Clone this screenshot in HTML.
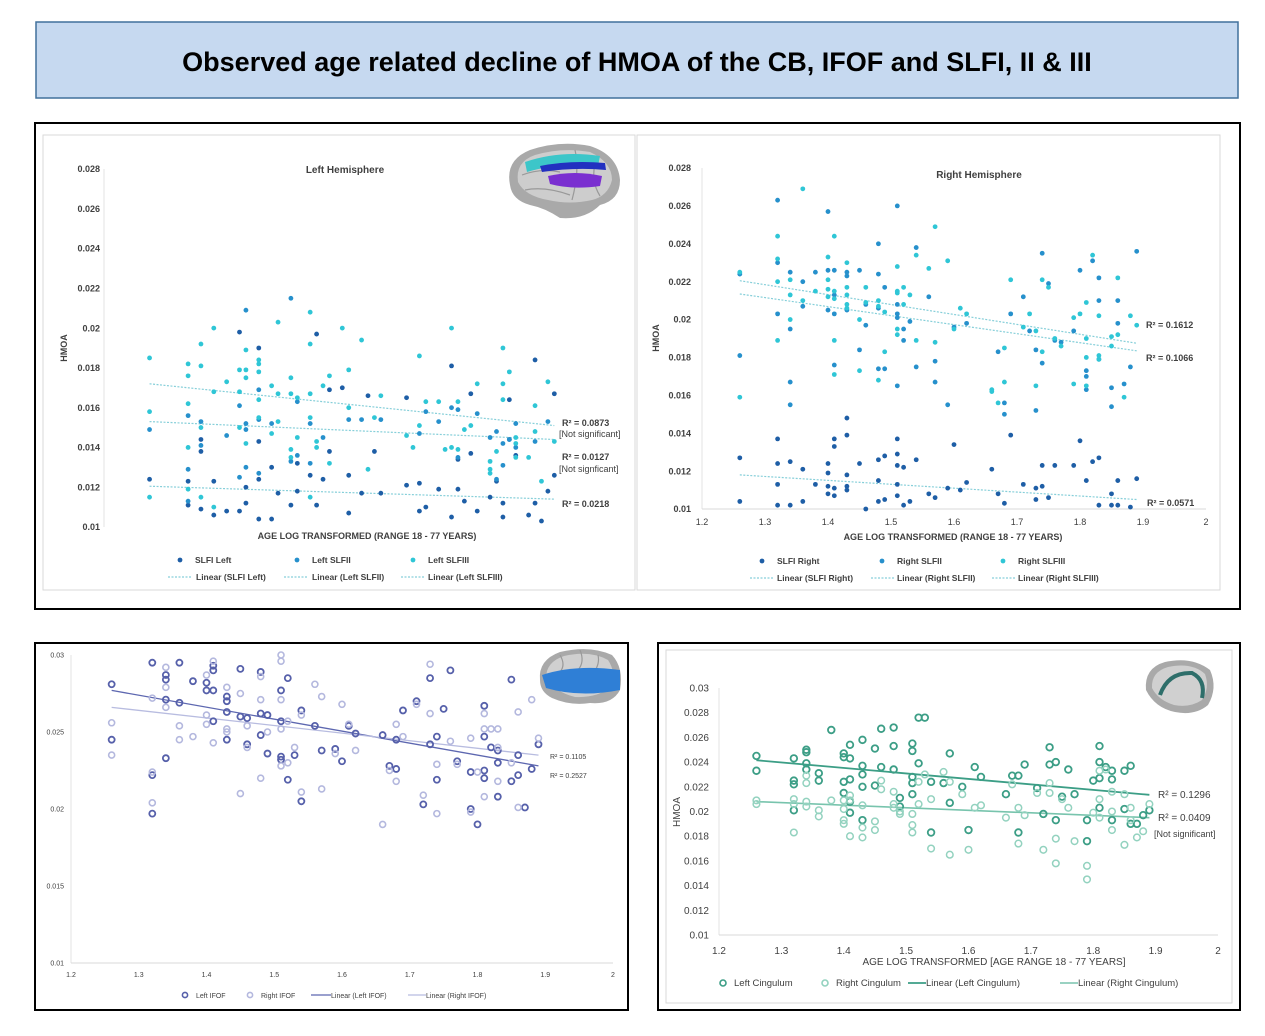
<!DOCTYPE html>
<html><head><meta charset="utf-8">
<style>
html,body{margin:0;padding:0;background:#fff;}
svg{display:block;font-family:"Liberation Sans",sans-serif;}
</style></head>
<body>
<svg id="fig" width="1265" height="1036" viewBox="0 0 1265 1036" xmlns="http://www.w3.org/2000/svg">
  <rect x="36" y="22" width="1202" height="76" fill="#c6d9f0" stroke="#41719c" stroke-width="1.5"/>
  <text x="637" y="71" text-anchor="middle" font-size="27" font-weight="bold" fill="#000">Observed age related decline of HMOA of the CB, IFOF and SLFI, II &amp; III</text>

  <rect x="35" y="123" width="1205" height="486" fill="#fff" stroke="#000" stroke-width="2"/>
  <rect x="43" y="135" width="592" height="455" fill="#fff" stroke="#d9d9d9"/>
  <rect x="637" y="135" width="583" height="455" fill="#fff" stroke="#d9d9d9"/>
  <rect x="35" y="643" width="593" height="367" fill="#fff" stroke="#000" stroke-width="2"/>
  <rect x="658" y="643" width="582" height="367" fill="#fff" stroke="#000" stroke-width="2"/>
  <rect x="666" y="650" width="566" height="353" fill="none" stroke="#d9d9d9"/>

  <!-- brains -->
  <g>
    <path d="M510 185 Q505 160 530 150 Q560 140 590 146 Q618 155 620 180 Q620 200 600 205 Q585 220 560 218 Q545 208 530 205 Q512 200 510 185 Z" fill="#a9a9a9"/>
    <path d="M518 182 Q515 162 535 155 Q562 147 590 152 Q612 162 612 180 Q608 196 592 200 Q570 205 548 200 Q525 196 518 182 Z" fill="#cdcdcd"/>
    <path d="M522 175 Q540 168 560 172 M525 190 Q545 186 570 195 M575 150 Q580 170 572 200 M596 160 Q590 180 600 196" fill="none" stroke="#999" stroke-width="1.2"/>
    <path d="M525 162 Q560 150 600 156 L598 166 Q560 162 527 172 Z" fill="#3cc6c9"/>
    <path d="M540 166 Q570 160 605 163 L606 170 Q575 167 542 172 Z" fill="#2230c0"/>
    <path d="M548 176 Q575 170 602 176 L600 186 Q572 190 550 184 Z" fill="#7a2fd0"/>
  </g>
  <g>
    <path d="M540 680 Q538 660 560 652 Q590 645 612 655 Q624 668 620 690 Q612 705 590 703 Q570 706 552 698 Q540 692 540 680 Z" fill="#a9a9a9"/>
    <path d="M546 678 Q546 662 564 656 Q590 650 608 660 Q616 672 612 686 Q598 698 575 697 Q555 692 546 678 Z" fill="#d0d0d0"/>
    <path d="M560 655 Q566 665 560 672 M580 650 Q585 662 578 670 M598 655 Q600 664 594 672" fill="none" stroke="#999" stroke-width="1.2"/>
    <path d="M542 675 Q575 664 620 670 L620 690 Q580 698 546 688 Z" fill="#2f7fd6"/>
  </g>
  <g>
    <path d="M1146 690 Q1144 668 1165 662 Q1192 656 1210 670 Q1218 688 1208 705 Q1195 716 1175 712 Q1155 708 1146 690 Z" fill="#a9a9a9"/>
    <path d="M1152 688 Q1151 672 1168 667 Q1192 662 1205 674 Q1210 688 1202 700 Q1190 708 1174 705 Q1158 700 1152 688 Z" fill="#d0d0d0"/>
    <path d="M1160 695 Q1168 672 1192 673 Q1206 680 1202 698" fill="none" stroke="#2e6e6a" stroke-width="4"/>
  </g>
  <g id="charts"></g>
</svg>
<script>
// ---------- DATA ----------
const leftSLFI = [[1.26,12.4],[1.32,12.3],[1.32,11.1],[1.34,10.9],[1.34,13.8],[1.34,14.4],[1.36,10.6],[1.36,12.3],[1.38,10.8],[1.40,10.8],[1.40,19.8],[1.41,12.0],[1.41,11.2],[1.43,12.4],[1.43,19.0],[1.43,10.4],[1.43,14.3],[1.45,10.4],[1.45,13.0],[1.46,11.7],[1.48,11.1],[1.49,11.8],[1.49,13.2],[1.51,12.6],[1.52,19.7],[1.52,11.1],[1.53,12.4],[1.54,13.8],[1.54,16.9],[1.56,17.0],[1.57,10.7],[1.57,12.6],[1.59,11.7],[1.60,16.6],[1.61,13.8],[1.62,11.7],[1.66,16.5],[1.66,12.1],[1.68,10.8],[1.68,12.2],[1.69,11.0],[1.71,11.9],[1.73,18.1],[1.73,10.5],[1.74,13.4],[1.74,11.9],[1.75,11.3],[1.76,16.7],[1.76,13.7],[1.77,10.8],[1.79,11.5],[1.80,12.3],[1.81,10.5],[1.81,11.2],[1.82,16.4],[1.82,14.4],[1.83,13.6],[1.85,10.6],[1.86,18.4],[1.86,11.2],[1.87,10.3],[1.88,11.8],[1.89,16.7],[1.89,12.6]];
const leftSLFII = [[1.26,14.9],[1.32,15.6],[1.32,12.9],[1.32,11.3],[1.34,15.3],[1.34,14.1],[1.38,14.6],[1.40,16.1],[1.40,12.5],[1.41,20.9],[1.41,15.2],[1.41,14.9],[1.41,13.0],[1.43,16.9],[1.43,15.4],[1.43,12.7],[1.45,15.2],[1.48,21.5],[1.48,13.3],[1.49,16.3],[1.49,13.6],[1.51,15.2],[1.51,13.2],[1.53,14.5],[1.57,15.4],[1.59,15.4],[1.62,15.4],[1.68,14.7],[1.69,15.8],[1.71,15.3],[1.73,16.0],[1.74,15.9],[1.74,13.5],[1.77,15.7],[1.79,14.5],[1.80,14.8],[1.80,12.4],[1.81,14.2],[1.81,13.1],[1.82,14.4],[1.83,15.2],[1.83,14.0],[1.86,14.3],[1.88,15.3]];
const leftSLFIII = [[1.26,18.5],[1.26,15.8],[1.26,11.5],[1.32,18.2],[1.32,17.6],[1.32,16.2],[1.32,14.0],[1.32,11.9],[1.34,19.2],[1.34,18.1],[1.34,15.0],[1.34,11.5],[1.36,20.0],[1.36,16.8],[1.36,11.0],[1.38,17.3],[1.40,17.9],[1.40,16.8],[1.40,15.0],[1.41,18.9],[1.41,17.9],[1.41,17.5],[1.41,14.2],[1.43,18.4],[1.43,18.2],[1.43,17.8],[1.43,16.4],[1.43,15.5],[1.45,17.1],[1.45,14.7],[1.46,20.3],[1.46,16.7],[1.46,15.3],[1.48,17.5],[1.48,16.7],[1.48,13.9],[1.48,13.5],[1.49,16.5],[1.49,14.5],[1.51,20.8],[1.51,19.2],[1.51,16.7],[1.51,15.5],[1.51,11.5],[1.52,14.3],[1.52,14.0],[1.53,17.1],[1.54,17.6],[1.54,13.2],[1.56,20.0],[1.57,17.9],[1.57,16.0],[1.59,19.4],[1.60,12.9],[1.61,15.5],[1.62,16.6],[1.66,14.6],[1.67,14.0],[1.68,18.6],[1.68,15.1],[1.69,16.3],[1.71,16.3],[1.72,13.9],[1.73,20.0],[1.73,14.0],[1.74,16.3],[1.74,13.9],[1.75,14.9],[1.76,15.1],[1.77,17.2],[1.79,13.3],[1.79,12.9],[1.79,12.7],[1.80,13.8],[1.81,19.0],[1.81,17.2],[1.81,16.4],[1.82,17.8],[1.83,14.5],[1.83,14.2],[1.83,13.5],[1.85,13.5],[1.86,16.1],[1.86,14.8],[1.87,12.3],[1.88,17.3],[1.89,14.3]];
const rightSLFI = [[1.26,12.7],[1.26,10.4],[1.32,13.7],[1.32,12.4],[1.32,11.3],[1.32,10.2],[1.34,12.5],[1.34,10.2],[1.36,12.1],[1.36,10.4],[1.38,11.3],[1.40,12.4],[1.40,11.9],[1.40,11.2],[1.40,10.8],[1.41,13.7],[1.41,13.3],[1.41,11.1],[1.41,10.7],[1.43,14.8],[1.43,13.9],[1.43,11.8],[1.43,11.2],[1.43,11.0],[1.45,12.4],[1.46,10.0],[1.48,12.6],[1.48,11.5],[1.48,10.4],[1.49,12.8],[1.49,10.5],[1.51,13.7],[1.51,12.9],[1.51,12.3],[1.51,11.3],[1.51,10.7],[1.52,12.2],[1.52,10.2],[1.53,10.4],[1.54,12.6],[1.56,10.8],[1.57,10.6],[1.59,11.1],[1.60,13.4],[1.61,11.0],[1.62,11.4],[1.66,12.1],[1.67,10.8],[1.68,10.3],[1.69,13.9],[1.71,11.3],[1.73,11.1],[1.73,10.5],[1.74,12.3],[1.74,11.2],[1.75,10.6],[1.76,12.3],[1.79,12.3],[1.80,13.6],[1.81,11.5],[1.82,12.5],[1.83,12.7],[1.83,10.2],[1.85,10.8],[1.85,10.2],[1.86,11.5],[1.86,10.2],[1.88,10.1],[1.89,11.6]];
const rightSLFII = [[1.26,22.4],[1.26,18.1],[1.32,26.3],[1.32,23.0],[1.32,20.3],[1.34,22.5],[1.34,19.5],[1.34,16.7],[1.34,15.5],[1.36,22.0],[1.36,20.7],[1.38,22.5],[1.40,25.7],[1.40,22.6],[1.40,20.5],[1.41,22.6],[1.41,21.3],[1.41,20.3],[1.41,17.6],[1.43,22.5],[1.43,22.3],[1.43,20.5],[1.45,22.6],[1.45,18.4],[1.46,20.8],[1.46,19.7],[1.48,24.0],[1.48,22.4],[1.48,20.6],[1.48,17.4],[1.49,21.7],[1.49,17.4],[1.51,26.0],[1.51,20.8],[1.51,20.3],[1.51,20.1],[1.51,16.5],[1.52,19.5],[1.52,18.9],[1.53,19.9],[1.54,23.8],[1.54,17.5],[1.56,21.2],[1.57,17.8],[1.57,16.7],[1.59,15.5],[1.60,19.6],[1.62,19.8],[1.67,18.3],[1.68,15.6],[1.68,15.0],[1.69,20.3],[1.71,21.2],[1.72,19.4],[1.73,18.4],[1.73,15.2],[1.74,23.5],[1.74,17.7],[1.75,21.9],[1.76,18.9],[1.77,18.8],[1.79,19.4],[1.80,22.6],[1.81,17.3],[1.81,17.0],[1.81,16.3],[1.82,23.1],[1.83,22.2],[1.83,21.0],[1.83,17.9],[1.85,16.4],[1.85,15.4],[1.86,21.0],[1.86,19.8],[1.87,16.6],[1.88,17.5],[1.89,23.6]];
const rightSLFIII = [[1.26,22.5],[1.26,15.9],[1.32,24.4],[1.32,23.2],[1.32,22.0],[1.32,18.9],[1.34,22.1],[1.34,21.3],[1.34,20.0],[1.36,26.9],[1.36,21.0],[1.38,21.5],[1.40,23.3],[1.40,22.1],[1.40,21.6],[1.40,21.2],[1.41,24.4],[1.41,21.5],[1.41,21.1],[1.41,18.9],[1.41,17.1],[1.43,23.0],[1.43,21.7],[1.43,21.3],[1.43,20.8],[1.43,20.6],[1.45,20.0],[1.45,17.3],[1.46,21.7],[1.46,20.9],[1.48,21.0],[1.48,20.7],[1.48,16.8],[1.49,20.4],[1.49,18.3],[1.51,22.8],[1.51,21.5],[1.51,21.4],[1.51,19.5],[1.51,19.2],[1.52,21.7],[1.52,20.8],[1.53,21.3],[1.54,23.4],[1.54,18.9],[1.56,22.7],[1.57,24.9],[1.57,18.8],[1.59,23.1],[1.60,19.5],[1.61,20.6],[1.62,20.3],[1.66,16.3],[1.66,16.2],[1.67,15.6],[1.68,18.5],[1.68,16.7],[1.69,22.1],[1.71,19.6],[1.72,20.3],[1.73,19.4],[1.73,16.5],[1.74,22.1],[1.74,18.3],[1.75,21.7],[1.76,19.0],[1.77,18.6],[1.79,20.1],[1.79,16.6],[1.80,20.3],[1.81,20.9],[1.81,19.0],[1.81,18.0],[1.81,16.5],[1.82,23.4],[1.83,20.2],[1.83,18.1],[1.83,17.9],[1.85,19.1],[1.85,18.6],[1.86,22.2],[1.86,19.2],[1.87,15.9],[1.88,20.2],[1.89,19.7]];
const leftIFOF = [[1.26,28.1],[1.26,24.5],[1.32,29.5],[1.32,22.2],[1.32,19.7],[1.34,28.7],[1.34,28.4],[1.34,27.1],[1.34,23.3],[1.36,29.5],[1.36,26.9],[1.38,28.3],[1.40,28.2],[1.40,27.7],[1.41,29.3],[1.41,29.0],[1.41,27.7],[1.41,25.7],[1.43,27.3],[1.43,27.0],[1.43,26.3],[1.43,24.5],[1.45,29.1],[1.45,26.0],[1.46,25.9],[1.46,24.2],[1.48,28.9],[1.48,26.2],[1.48,24.8],[1.49,26.1],[1.49,23.6],[1.51,27.7],[1.51,25.7],[1.51,23.4],[1.51,23.2],[1.52,28.5],[1.52,21.9],[1.53,23.5],[1.54,26.4],[1.54,20.5],[1.56,25.4],[1.57,23.8],[1.59,23.9],[1.60,23.1],[1.61,25.4],[1.62,24.9],[1.66,24.8],[1.67,22.8],[1.68,24.5],[1.68,22.6],[1.69,26.4],[1.71,27.0],[1.72,20.3],[1.73,28.5],[1.73,24.2],[1.74,24.7],[1.74,21.9],[1.75,26.5],[1.76,29.0],[1.77,23.1],[1.79,22.4],[1.79,20.0],[1.80,19.0],[1.81,26.7],[1.81,24.7],[1.81,22.5],[1.81,22.0],[1.82,24.0],[1.83,23.8],[1.83,23.0],[1.83,20.8],[1.85,28.4],[1.85,21.8],[1.86,23.5],[1.86,22.2],[1.87,20.1],[1.88,22.6],[1.89,24.2]];
const rightIFOF = [[1.26,25.6],[1.26,23.5],[1.32,27.2],[1.32,22.4],[1.32,20.4],[1.34,29.2],[1.34,27.9],[1.34,26.6],[1.36,25.4],[1.36,24.5],[1.38,24.7],[1.40,28.7],[1.40,26.1],[1.40,25.5],[1.41,29.6],[1.41,24.3],[1.43,27.9],[1.43,25.2],[1.43,25.0],[1.45,27.5],[1.45,21.0],[1.46,25.4],[1.46,24.0],[1.48,28.6],[1.48,27.1],[1.48,22.0],[1.49,25.0],[1.51,30.0],[1.51,29.6],[1.51,27.1],[1.51,25.2],[1.51,22.8],[1.52,25.7],[1.52,23.0],[1.53,24.0],[1.54,26.1],[1.54,21.1],[1.56,28.1],[1.57,27.3],[1.57,21.3],[1.59,23.6],[1.60,26.8],[1.61,25.5],[1.62,23.8],[1.66,19.0],[1.67,22.5],[1.68,25.5],[1.68,21.8],[1.69,24.7],[1.71,26.8],[1.72,20.9],[1.73,29.4],[1.73,26.2],[1.74,22.9],[1.74,19.7],[1.76,24.4],[1.77,22.9],[1.79,24.6],[1.79,19.8],[1.80,22.4],[1.81,26.2],[1.81,25.2],[1.81,20.8],[1.82,25.2],[1.83,25.2],[1.83,24.0],[1.83,21.8],[1.85,23.0],[1.86,26.3],[1.86,20.1],[1.88,27.1],[1.89,24.6]];
const leftCing = [[1.26,24.5],[1.26,23.3],[1.32,24.3],[1.32,22.5],[1.32,22.2],[1.32,20.1],[1.34,25.0],[1.34,24.8],[1.34,23.9],[1.34,23.4],[1.36,23.1],[1.36,22.5],[1.38,26.6],[1.40,24.7],[1.40,24.4],[1.40,22.4],[1.40,21.5],[1.41,25.4],[1.41,24.3],[1.41,22.6],[1.41,20.8],[1.41,19.9],[1.43,25.8],[1.43,23.7],[1.43,23.0],[1.43,22.0],[1.43,19.3],[1.45,25.1],[1.45,22.1],[1.46,26.7],[1.46,23.6],[1.48,26.8],[1.48,25.3],[1.48,23.4],[1.49,21.1],[1.49,20.4],[1.51,25.5],[1.51,24.9],[1.51,22.8],[1.51,22.3],[1.51,21.4],[1.52,27.6],[1.52,23.9],[1.53,27.6],[1.54,22.4],[1.54,18.3],[1.56,22.3],[1.57,24.7],[1.57,20.7],[1.59,22.0],[1.60,18.5],[1.61,23.6],[1.62,22.8],[1.66,21.4],[1.67,22.9],[1.68,22.9],[1.68,18.3],[1.69,23.8],[1.71,21.9],[1.72,19.8],[1.73,25.2],[1.73,23.8],[1.74,24.0],[1.74,19.3],[1.75,21.2],[1.76,23.4],[1.77,21.4],[1.79,19.3],[1.79,17.6],[1.80,22.5],[1.81,25.3],[1.81,24.0],[1.81,22.7],[1.81,20.3],[1.82,23.6],[1.83,23.3],[1.83,22.6],[1.83,19.3],[1.85,23.3],[1.85,20.2],[1.86,23.7],[1.86,19.0],[1.87,19.0],[1.88,19.7],[1.89,20.1]];
const rightCing = [[1.26,20.9],[1.26,20.6],[1.32,21.0],[1.32,20.6],[1.32,18.3],[1.34,22.9],[1.34,22.3],[1.34,20.8],[1.34,20.4],[1.36,20.1],[1.36,19.6],[1.38,20.9],[1.40,20.9],[1.40,20.2],[1.40,19.3],[1.40,19.0],[1.41,21.3],[1.41,20.9],[1.41,18.0],[1.43,20.5],[1.43,18.7],[1.43,17.9],[1.45,19.2],[1.45,18.5],[1.46,22.5],[1.46,21.8],[1.48,21.6],[1.48,20.6],[1.48,20.3],[1.49,20.0],[1.49,19.8],[1.51,19.8],[1.51,18.9],[1.51,18.3],[1.52,22.4],[1.52,20.6],[1.53,23.0],[1.54,21.0],[1.54,17.0],[1.56,23.2],[1.57,22.4],[1.57,16.5],[1.59,21.4],[1.60,16.9],[1.61,20.3],[1.62,20.5],[1.66,19.5],[1.67,22.2],[1.68,20.3],[1.68,17.4],[1.69,19.7],[1.71,21.5],[1.72,16.9],[1.73,22.3],[1.73,21.5],[1.74,17.8],[1.74,15.8],[1.75,21.0],[1.76,20.3],[1.77,17.6],[1.79,15.6],[1.79,14.5],[1.80,19.9],[1.81,23.3],[1.81,21.0],[1.81,19.5],[1.82,23.4],[1.83,21.6],[1.83,20.0],[1.83,18.5],[1.85,21.4],[1.85,17.3],[1.86,20.3],[1.86,19.3],[1.87,17.9],[1.88,18.4],[1.89,20.6]];
const trendLeftSLF = [[12.05,11.4],[15.3,14.4],[17.2,15.1]];
const trendRightSLF = [[11.8,10.5],[21.35,18.35],[22.05,18.75]];
const trendIFOF = [[27.7,22.8],[26.6,23.5]];
const trendCing = [[24.15,21.35],[20.8,19.5]];
const trendX = [1.26, 1.89];
const ticksSLF = ["0.028","0.026","0.024","0.022","0.02","0.018","0.016","0.014","0.012","0.01"];
const ticksIFOF = ["0.03","0.025","0.02","0.015","0.01"];
const ticksCing = ["0.03","0.028","0.026","0.024","0.022","0.02","0.018","0.016","0.014","0.012","0.01"];
const ticksX = ["1.2","1.3","1.4","1.5","1.6","1.7","1.8","1.9","2"];

// ---------- DRAW ----------
const NS = "http://www.w3.org/2000/svg";
const root = document.getElementById('charts');
function mk(tag, attrs, parent) {
  const e = document.createElementNS(NS, tag);
  for (const k in attrs) e.setAttribute(k, attrs[k]);
  (parent || root).appendChild(e);
  return e;
}
function txt(x, y, s, size, opts, parent) {
  const e = mk('text', Object.assign({x: x, y: y, 'font-size': size, fill: '#404040'}, opts || {}), parent);
  e.textContent = s;
  return e;
}
function axes(x0, x1, y0, y1, vmin, vmax) {
  return {
    sx: v => x0 + (v - 1.2) / 0.8 * (x1 - x0),
    sy: v => y1 - (v - vmin) / (vmax - vmin) * (y1 - y0)
  };
}
function drawChart(c) {
  const g = mk('g', {});
  
  
  const ax = axes(c.x0, c.x1, c.y0, c.y1, c.vmin, c.vmax);
  const axl = mk('line', {x1: c.axisX, y1: c.y0, x2: c.axisX, y2: c.y1, stroke: '#e3e3e3', 'stroke-width': 1}, g);
  
  
  if (c.showXAxisLine) {
    const xl = mk('line', {x1: c.axisX, y1: c.y1, x2: c.x1, y2: c.y1, stroke: '#d9d9d9', 'stroke-width': 1}, g);
    
    
  }
  c.yTicks.forEach(t => {
    const e = txt(c.tickX, ax.sy(parseFloat(t) * 1000) + c.tickFs * 0.35, t, c.tickFs, {'text-anchor': 'end', 'font-weight': c.bold ? 'bold' : 'normal'}, g);
    
    
  });
  if (c.showX) ticksX.forEach(t => {
    const e = txt(ax.sx(parseFloat(t)), c.xTickY, t, c.tickFs, {'text-anchor': 'middle'}, g);
    
    
  });
  c.trends.forEach((tr, i) => {
    const s = c.series[i];
    const l = mk('line', {x1: ax.sx(trendX[0]), y1: ax.sy(tr[0]), x2: ax.sx(trendX[1]), y2: ax.sy(tr[1]), stroke: s.trendColor, 'stroke-width': s.trendW, 'stroke-dasharray': s.dash || 'none'}, g);
    
    
  });
  c.series.forEach(s => {
    s.data.forEach(p => {
      const ci = mk('circle', {cx: ax.sx(p[0]), cy: ax.sy(p[1]), r: s.r, fill: s.hollow ? 'none' : s.color, stroke: s.hollow ? s.color : 'none', 'stroke-width': s.sw || 0}, g);
      
      
    });
  });
}
const cSLFI = '#1e5ea6', cSLFII = '#2690cc', cSLFIII = '#2fc6d6', cTrend = '#86cfd9';
drawChart({name: 'left-hemisphere-chart', x0: 111, x1: 625, y0: 169, y1: 527, vmin: 10, vmax: 28, axisX: 104, tickX: 100, tickFs: 9, bold: true, showX: false, yTicks: ticksSLF, trends: trendLeftSLF,
  series: [
    {key: 'slfi-left', data: leftSLFI, color: cSLFI, r: 2.4, trendColor: cTrend, trendW: 1.2, dash: '2,1.5'},
    {key: 'slfii-left', data: leftSLFII, color: cSLFII, r: 2.4, trendColor: cTrend, trendW: 1.2, dash: '2,1.5'},
    {key: 'slfiii-left', data: leftSLFIII, color: cSLFIII, r: 2.4, trendColor: cTrend, trendW: 1.2, dash: '2,1.5'}]});
drawChart({name: 'right-hemisphere-chart', x0: 702, x1: 1206, y0: 168, y1: 509, vmin: 10, vmax: 28, axisX: 702, tickX: 691, tickFs: 9, bold: true, showX: true, showXAxisLine: true, xTickY: 525, yTicks: ticksSLF, trends: trendRightSLF,
  series: [
    {key: 'slfi-right', data: rightSLFI, color: cSLFI, r: 2.4, trendColor: cTrend, trendW: 1.2, dash: '2,1.5'},
    {key: 'slfii-right', data: rightSLFII, color: cSLFII, r: 2.4, trendColor: cTrend, trendW: 1.2, dash: '2,1.5'},
    {key: 'slfiii-right', data: rightSLFIII, color: cSLFIII, r: 2.4, trendColor: cTrend, trendW: 1.2, dash: '2,1.5'}]});
drawChart({name: 'ifof-chart', x0: 71, x1: 613, y0: 655, y1: 963, vmin: 10, vmax: 30, axisX: 71, tickX: 64, tickFs: 7, showX: true, showXAxisLine: true, xTickY: 977, yTicks: ticksIFOF, trends: trendIFOF,
  series: [
    {key: 'left-ifof', data: leftIFOF, color: '#5660aa', r: 3, hollow: true, sw: 1.8, trendColor: '#5d67b0', trendW: 1.3},
    {key: 'right-ifof', data: rightIFOF, color: '#b4b8de', r: 3, hollow: true, sw: 1.6, trendColor: '#b8bce0', trendW: 1.3}]});
drawChart({name: 'cingulum-chart', x0: 719, x1: 1218, y0: 688, y1: 935, vmin: 10, vmax: 30, axisX: 719, tickX: 709, tickFs: 10, showX: true, showXAxisLine: true, xTickY: 954, yTicks: ticksCing, trends: trendCing,
  series: [
    {key: 'left-cingulum', data: leftCing, color: '#3c9e86', r: 3.3, hollow: true, sw: 1.8, trendColor: '#3c9e86', trendW: 1.8},
    {key: 'right-cingulum', data: rightCing, color: '#93d2bf', r: 3.3, hollow: true, sw: 1.5, trendColor: '#78c4ad', trendW: 1.6}]});

// ---------- LABELS ----------
function label(x, y, s, fs, name, opts) {
  const e = txt(x, y, s, fs, opts);
  
  
  return e;
}
const B = {'font-weight': 'bold', fill: '#404040'};
label(345, 173, 'Left Hemisphere', 10, 'chart-title-left', Object.assign({'text-anchor': 'middle'}, B));
label(979, 178, 'Right Hemisphere', 10, 'chart-title-right', Object.assign({'text-anchor': 'middle'}, B));
label(67, 348, 'HMOA', 9, 'y-axis-title-left', Object.assign({'text-anchor': 'middle', transform: 'rotate(-90 67 348)'}, B));
label(659, 338, 'HMOA', 9, 'y-axis-title-right', Object.assign({'text-anchor': 'middle', transform: 'rotate(-90 659 338)'}, B));
label(367, 539, 'AGE LOG TRANSFORMED (RANGE 18 - 77 YEARS)', 9, 'x-axis-title-left', Object.assign({'text-anchor': 'middle'}, B));
label(953, 540, 'AGE LOG TRANSFORMED (RANGE 18 - 77 YEARS)', 9, 'x-axis-title-right', Object.assign({'text-anchor': 'middle'}, B));
label(562, 426, 'R² = 0.0873', 9, 'r2-left-slfiii', B);
label(559, 437, '[Not significant]', 9, 'note-left-slfiii', {fill: '#404040'});
label(562, 460, 'R² = 0.0127', 9, 'r2-left-slfii', B);
label(559, 472, '[Not signficant]', 9, 'note-left-slfii', {fill: '#404040'});
label(562, 507, 'R² = 0.0218', 9, 'r2-left-slfi', B);
label(1146, 328, 'R² = 0.1612', 9, 'r2-right-slfiii', B);
label(1146, 361, 'R² = 0.1066', 9, 'r2-right-slfii', B);
label(1147, 506, 'R² = 0.0571', 9, 'r2-right-slfi', B);
label(550, 759, 'R² = 0.1105', 7, 'r2-right-ifof', {fill: '#404040'});
label(550, 778, 'R² = 0.2527', 7, 'r2-left-ifof', {fill: '#404040'});
label(680, 812, 'HMOA', 10, 'y-axis-title-cingulum', {'text-anchor': 'middle', transform: 'rotate(-90 680 812)', fill: '#404040'});
label(994, 965, 'AGE LOG TRANSFORMED [AGE RANGE 18 - 77 YEARS]', 10, 'x-axis-title-cingulum', {'text-anchor': 'middle', fill: '#404040'});
label(1158, 798, 'R² = 0.1296', 10, 'r2-left-cingulum', {fill: '#404040'});
label(1158, 821, 'R² = 0.0409', 10, 'r2-right-cingulum', {fill: '#404040'});
label(1154, 837, '[Not significant]', 9, 'note-right-cingulum', {fill: '#404040'});

function legDot(x, y, col, hollow, name, r) {
  const e = mk('circle', {cx: x, cy: y, r: r || 2.4, fill: hollow ? 'none' : col, stroke: hollow ? col : 'none', 'stroke-width': hollow ? 1.6 : 0});
  
  
}
function legLine(x1, x2, y, col, dash, name, w) {
  const e = mk('line', {x1: x1, y1: y, x2: x2, y2: y, stroke: col, 'stroke-width': w || 1.2, 'stroke-dasharray': dash || 'none'});
  
  
}
legDot(180, 560, cSLFI, false, 'legend-marker-slfi-left');
label(195, 563, 'SLFI Left', 8.5, 'legend-label-slfi-left', B);
legDot(297, 560, cSLFII, false, 'legend-marker-slfii-left');
label(312, 563, 'Left SLFII', 8.5, 'legend-label-slfii-left', B);
legDot(413, 560, cSLFIII, false, 'legend-marker-slfiii-left');
label(428, 563, 'Left SLFIII', 8.5, 'legend-label-slfiii-left', B);
legLine(168, 191, 577, cTrend, '2,1.5', 'legend-line-slfi-left');
label(196, 580, 'Linear (SLFI Left)', 8.5, 'legend-label-linear-slfi-left', B);
legLine(284, 307, 577, cTrend, '2,1.5', 'legend-line-slfii-left');
label(312, 580, 'Linear (Left SLFII)', 8.5, 'legend-label-linear-slfii-left', B);
legLine(401, 424, 577, cTrend, '2,1.5', 'legend-line-slfiii-left');
label(428, 580, 'Linear (Left SLFIII)', 8.5, 'legend-label-linear-slfiii-left', B);

legDot(762, 561, cSLFI, false, 'legend-marker-slfi-right');
label(777, 564, 'SLFI Right', 8.5, 'legend-label-slfi-right', B);
legDot(882, 561, cSLFII, false, 'legend-marker-slfii-right');
label(897, 564, 'Right SLFII', 8.5, 'legend-label-slfii-right', B);
legDot(1003, 561, cSLFIII, false, 'legend-marker-slfiii-right');
label(1018, 564, 'Right SLFIII', 8.5, 'legend-label-slfiii-right', B);
legLine(750, 773, 578, cTrend, '2,1.5', 'legend-line-slfi-right');
label(777, 581, 'Linear (SLFI Right)', 8.5, 'legend-label-linear-slfi-right', B);
legLine(871, 894, 578, cTrend, '2,1.5', 'legend-line-slfii-right');
label(897, 581, 'Linear (Right SLFII)', 8.5, 'legend-label-linear-slfii-right', B);
legLine(992, 1015, 578, cTrend, '2,1.5', 'legend-line-slfiii-right');
label(1018, 581, 'Linear (Right SLFIII)', 8.5, 'legend-label-linear-slfiii-right', B);

legDot(185, 995, '#5660aa', true, 'legend-marker-left-ifof', 2.6);
label(196, 998, 'Left IFOF', 7, 'legend-label-left-ifof');
legDot(250, 995, '#b4b8de', true, 'legend-marker-right-ifof', 2.6);
label(261, 998, 'Right IFOF', 7, 'legend-label-right-ifof');
legLine(311, 331, 995, '#5d67b0', null, 'legend-line-left-ifof');
label(331, 998, 'Linear (Left IFOF)', 7, 'legend-label-linear-left-ifof');
legLine(408, 426, 995, '#b8bce0', null, 'legend-line-right-ifof');
label(426, 998, 'Linear (Right IFOF)', 7, 'legend-label-linear-right-ifof');

legDot(723, 983, '#3c9e86', true, 'legend-marker-left-cingulum', 3);
label(734, 986, 'Left Cingulum', 9.5, 'legend-label-left-cingulum');
legDot(825, 983, '#93d2bf', true, 'legend-marker-right-cingulum', 3);
label(836, 986, 'Right Cingulum', 9.5, 'legend-label-right-cingulum');
legLine(908, 926, 983, '#3c9e86', null, 'legend-line-left-cingulum', 1.8);
label(926, 986, 'Linear (Left Cingulum)', 9.5, 'legend-label-linear-left-cingulum');
legLine(1060, 1078, 983, '#78c4ad', null, 'legend-line-right-cingulum', 1.6);
label(1078, 986, 'Linear (Right Cingulum)', 9.5, 'legend-label-linear-right-cingulum');
</script>
</body></html>
